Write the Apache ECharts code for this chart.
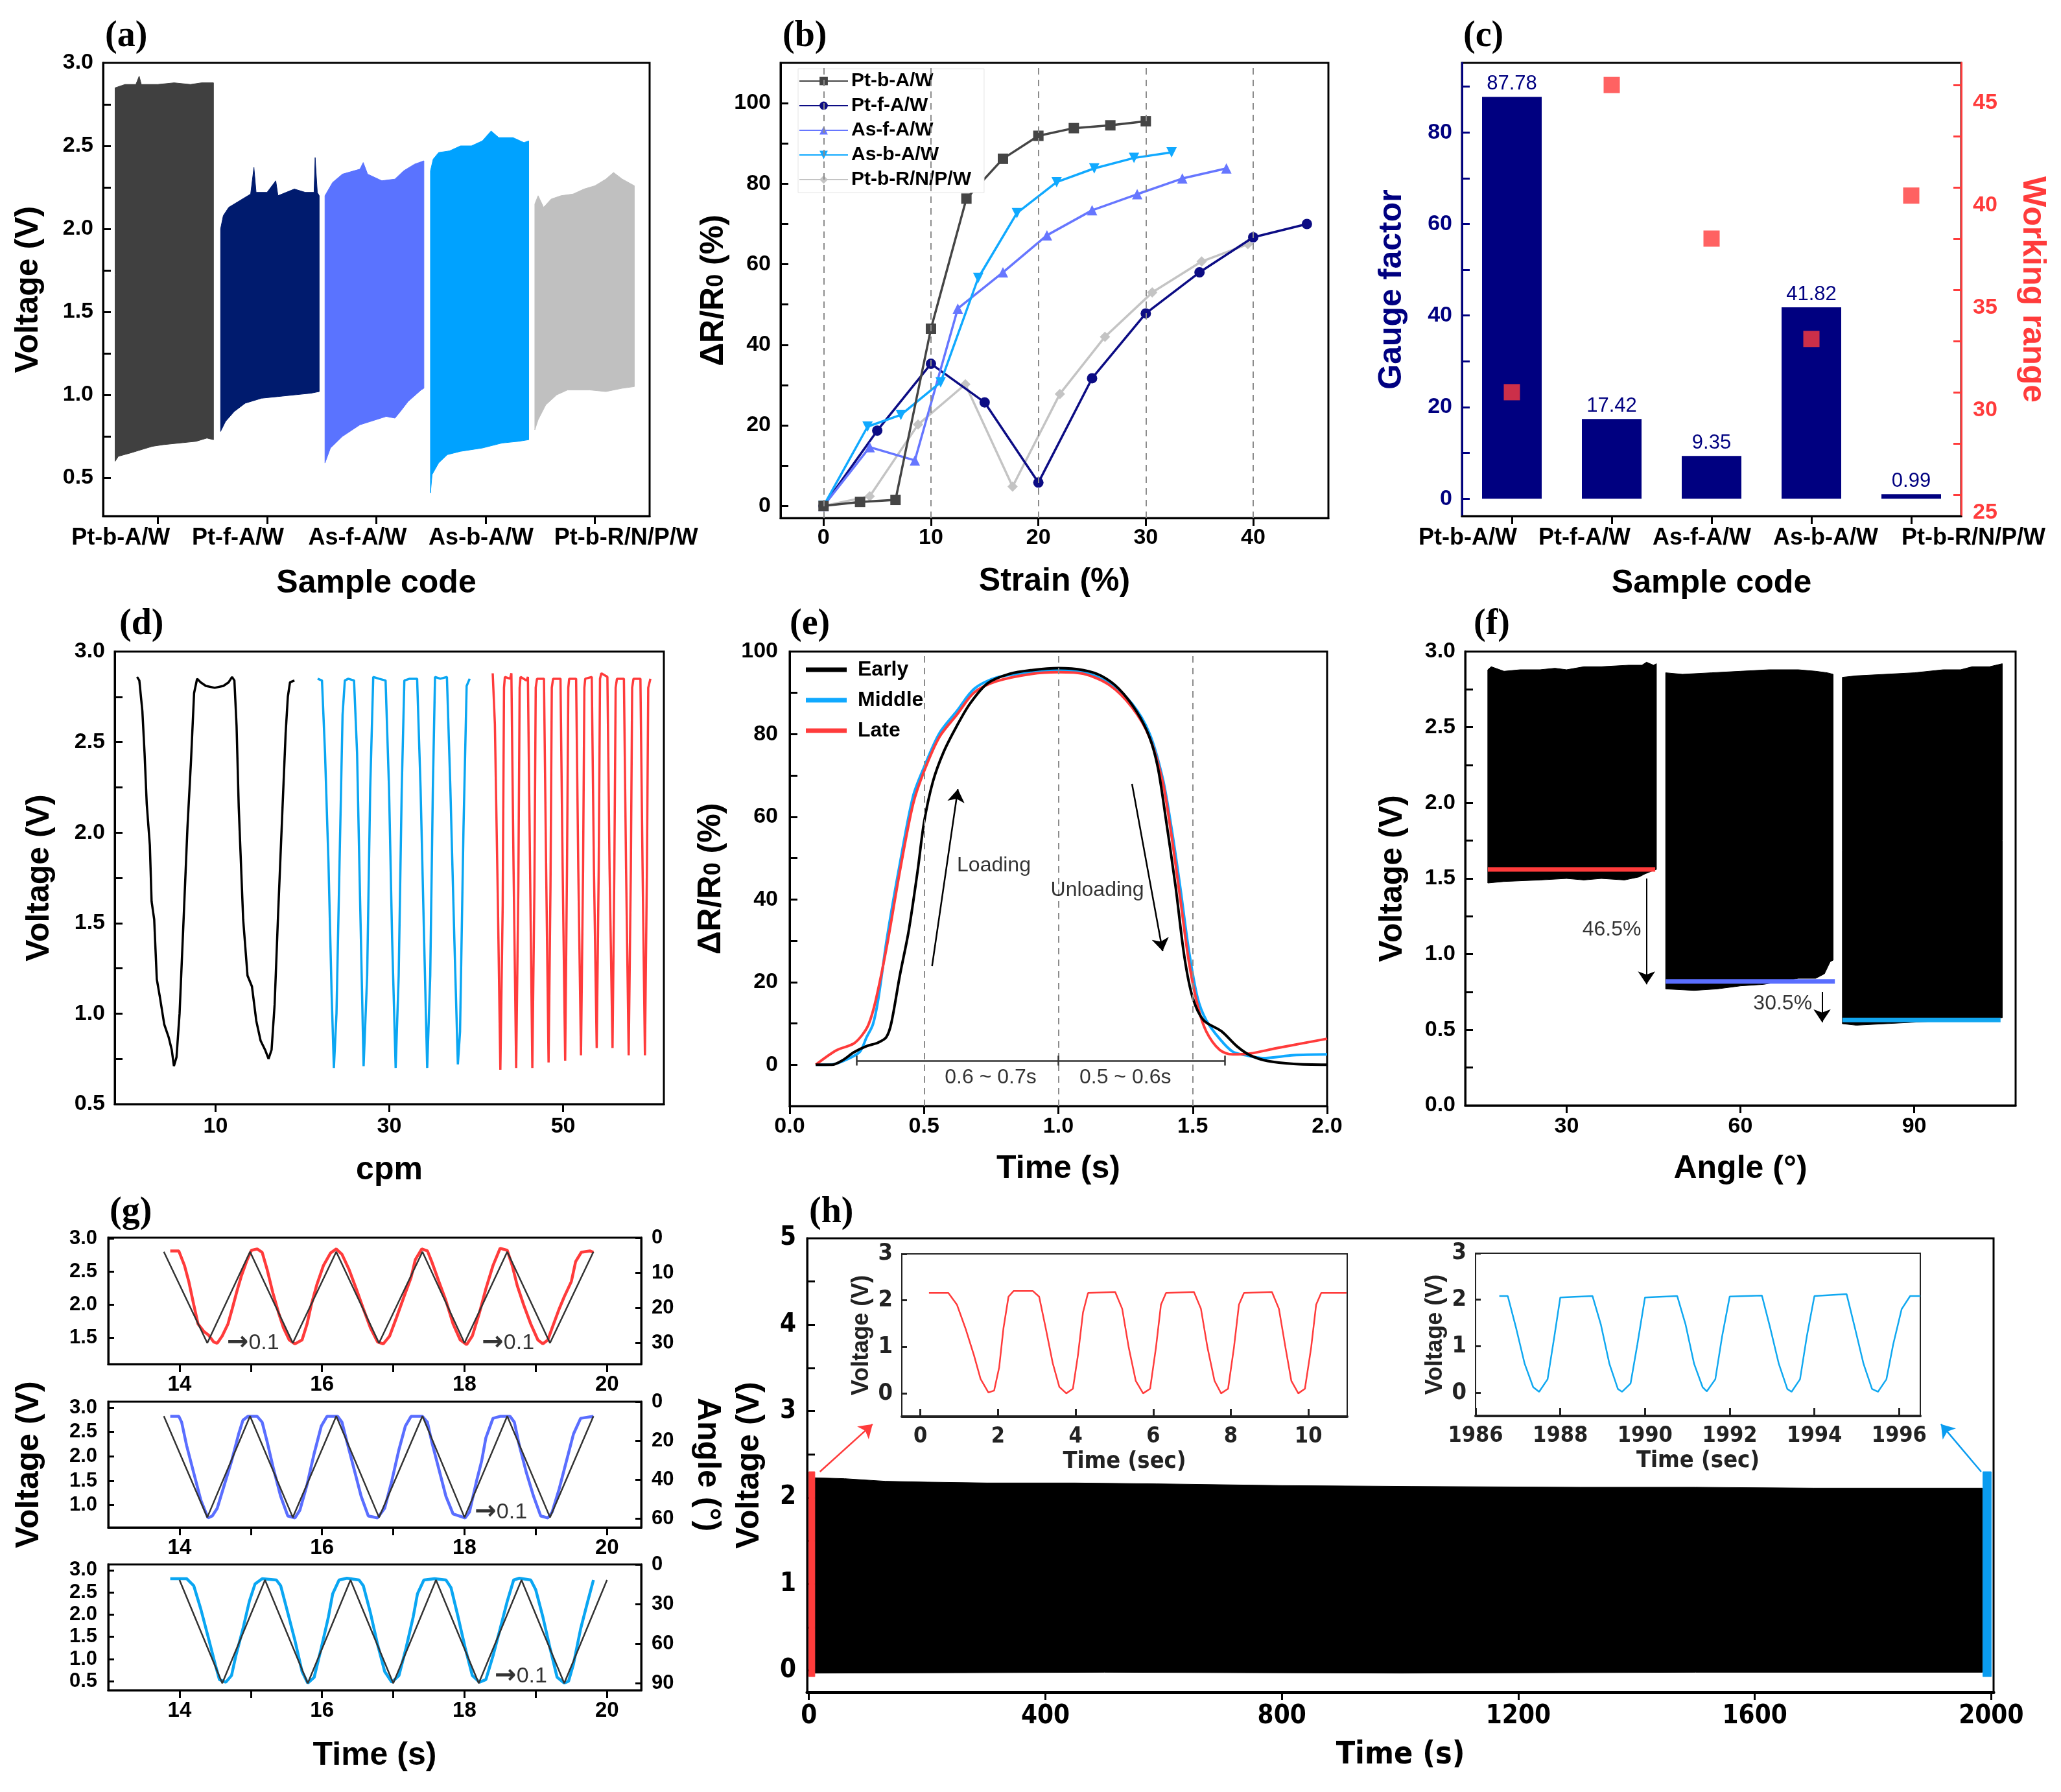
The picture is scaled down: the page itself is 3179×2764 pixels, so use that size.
<!DOCTYPE html>
<html>
<head>
<meta charset="utf-8">
<title>Sensor figure (a)-(h)</title>
<script src="https://cdn.jsdelivr.net/npm/echarts@6.0.0/dist/echarts.min.js"></script>
<style>
  html, body { margin: 0; padding: 0; background: #fff; }
  #chart { width: 3179px; height: 2764px; }
</style>
</head>
<body>
<div id="chart"></div>
<script>
// ---------- values ----------

// (a) voltage envelopes of the dense cycling signal, one block per sample
var sampleCodes = ['Pt-b-A/W', 'Pt-f-A/W', 'As-f-A/W', 'As-b-A/W', 'Pt-b-R/N/P/W'];
var aCatCenters = [0.5, 1.5, 2.5, 3.5, 4.5];
var aVoltLabels = [0.5, 1.0, 1.5, 2.0, 2.5, 3.0];
var aVoltTicks = [0.5, 0.75, 1.0, 1.25, 1.5, 1.75, 2.0, 2.25, 2.5, 2.75];
var aUpper1 = [[0.11,2.85],[0.2,2.87],[0.3,2.87],[0.33,2.92],[0.35,2.87],[0.5,2.87],[0.65,2.88],[0.8,2.87],[0.9,2.88],[1.01,2.88]];
var aLower1 = [[0.11,0.60],[0.14,0.63],[0.25,0.65],[0.35,0.67],[0.45,0.69],[0.55,0.70],[0.7,0.71],[0.85,0.72],[0.95,0.74],[1.01,0.73]];
var aUpper2 = [[1.075,2.0],[1.1,2.08],[1.15,2.13],[1.25,2.17],[1.35,2.21],[1.38,2.37],[1.4,2.22],[1.5,2.22],[1.58,2.29],[1.6,2.2],[1.75,2.24],[1.85,2.22],[1.93,2.22],[1.94,2.43],[1.96,2.22],[1.977,2.2]];
var aLower2 = [[1.075,0.78],[1.12,0.84],[1.2,0.9],[1.3,0.95],[1.45,0.98],[1.6,0.99],[1.75,1.0],[1.9,1.01],[1.977,1.02]];
var aUpper3 = [[2.03,2.2],[2.1,2.28],[2.19,2.33],[2.35,2.36],[2.38,2.4],[2.42,2.33],[2.55,2.29],[2.67,2.3],[2.75,2.35],[2.85,2.39],[2.935,2.41]];
var aLower3 = [[2.03,0.59],[2.08,0.68],[2.19,0.75],[2.35,0.82],[2.59,0.87],[2.67,0.86],[2.72,0.9],[2.79,0.96],[2.91,1.03],[2.935,1.04]];
var aUpper4 = [[2.995,2.35],[3.02,2.42],[3.07,2.46],[3.17,2.47],[3.27,2.5],[3.37,2.5],[3.47,2.53],[3.55,2.59],[3.62,2.55],[3.75,2.55],[3.85,2.52],[3.894,2.53]];
var aLower4 = [[2.995,0.41],[3.01,0.52],[3.07,0.59],[3.15,0.64],[3.27,0.66],[3.47,0.68],[3.65,0.71],[3.8,0.72],[3.894,0.73]];
var aUpper5 = [[3.95,2.15],[3.98,2.2],[4.03,2.13],[4.1,2.18],[4.19,2.2],[4.3,2.21],[4.4,2.24],[4.5,2.26],[4.6,2.3],[4.67,2.34],[4.75,2.3],[4.86,2.26]];
var aLower5 = [[3.95,0.79],[3.98,0.85],[4.05,0.94],[4.15,1.0],[4.25,1.03],[4.45,1.03],[4.6,1.02],[4.75,1.04],[4.86,1.05]];

// (b) relative resistance change vs strain
var bStrainLabels = [0, 10, 20, 30, 40];
var bResLabels = [0, 20, 40, 60, 80, 100];
var bResTicks = [0, 10, 20, 30, 40, 50, 60, 70, 80, 90, 100];
var bPtbAW = [[0,0],[3.4,1],[6.7,1.5],[10,44],[13.3,76.3],[16.7,86.2],[20,91.9],[23.3,93.8],[26.7,94.5],[30,95.5]];
var bPtfAW = [[0,0],[5,18.7],[10,35.3],[15,25.7],[20,5.8],[25,31.7],[30,47.8],[35,58],[40,66.7],[45,70]];
var bAsfAW = [[0,0],[4.3,14.6],[8.5,11.3],[12.5,49],[16.7,58],[20.8,67.2],[25,73.4],[29.2,77.4],[33.4,81.3],[37.5,83.8]];
var bAsbAW = [[0,0],[4.1,19.7],[7.2,22.6],[10.9,30.7],[14.4,56.6],[18,72.7],[21.7,80.4],[25.2,83.8],[28.9,86.4],[32.4,87.8]];
var bPtbRNPW = [[0,0],[4.3,2.4],[8.8,20.2],[13.2,30.2],[17.6,4.8],[22,27.8],[26.2,42],[30.6,53],[35.2,60.7],[39.5,65]];

// (c) gauge factor (bars) and working range (squares)
var cGauge = [87.78, 17.42, 9.35, 41.82, 0.99];
var cRange = [30, 45, 37.5, 32.6, 39.6];
var cGaugeLabels = [0, 20, 40, 60, 80];
var cGaugeTicks = [0, 10, 20, 30, 40, 50, 60, 70, 80, 90];
var cRangeLabels = [25, 30, 35, 40, 45];
var cRangeTicks = [25, 27.5, 30, 32.5, 35, 37.5, 40, 42.5, 45];

// (d) voltage at 10 / 30 / 50 cpm
var dCpmLabels = [10, 30, 50];
var dVoltLabels = [0.5, 1.0, 1.5, 2.0, 2.5, 3.0];
var dVoltTicks = [0.75, 1.0, 1.25, 1.5, 1.75, 2.0, 2.25, 2.5, 2.75];
var d10cpm = [[0.97,2.86],[1.23,2.84],[1.58,2.67],[1.83,2.44],[2.08,2.16],[2.44,1.93],[2.64,1.62],[2.94,1.52],[3.24,1.19],[3.6,1.09],[4.1,0.94],[4.6,0.87],[4.96,0.80],[5.21,0.71],[5.51,0.76],[5.86,1.0],[6.27,1.46],[6.77,2.03],[7.18,2.40],[7.53,2.77],[7.88,2.85],[8.29,2.83],[8.89,2.81],[9.9,2.80],[10.9,2.81],[11.5,2.83],[11.9,2.86],[12.17,2.84],[12.42,2.59],[12.67,2.14],[13.18,1.52],[13.68,1.21],[14.19,1.15],[14.69,0.96],[15.19,0.85],[15.7,0.80],[16.1,0.75],[16.45,0.80],[16.8,1.05],[17.21,1.56],[17.71,2.14],[18.07,2.55],[18.32,2.75],[18.57,2.83],[19.08,2.84]];
var d30cpm = [[21.75,2.85],[22.25,2.84],[22.6,2.44],[23.0,1.83],[23.36,1.11],[23.62,0.70],[23.92,1.0],[24.27,1.83],[24.62,2.65],[24.88,2.84],[25.28,2.85],[25.94,2.84],[26.29,2.44],[26.64,1.62],[27.04,0.71],[27.45,1.21],[27.8,2.24],[28.15,2.86],[28.81,2.85],[29.57,2.84],[29.97,2.24],[30.32,1.42],[30.73,0.70],[31.08,1.21],[31.43,2.24],[31.73,2.84],[32.34,2.85],[33.2,2.85],[33.6,2.24],[34.0,1.42],[34.36,0.70],[34.71,1.21],[35.01,2.24],[35.26,2.86],[35.87,2.85],[36.63,2.86],[37.03,2.24],[37.48,1.42],[37.89,0.72],[38.14,0.90],[38.54,2.03],[38.9,2.81],[39.25,2.85]];
var d50cpm = [[41.9,2.88],[42.15,2.6],[42.5,1.6],[42.78,0.69],[43.05,1.6],[43.2,2.8],[43.3,2.86],[43.9,2.85],[44.05,2.88],[44.3,1.8],[44.6,0.70],[44.85,1.7],[45.0,2.8],[45.1,2.86],[45.8,2.84],[45.95,2.86],[46.2,1.8],[46.46,0.70],[46.7,1.7],[46.85,2.8],[47.0,2.85],[47.8,2.85],[48.05,1.8],[48.33,0.73],[48.55,1.7],[48.7,2.8],[48.85,2.85],[49.7,2.85],[49.95,1.8],[50.24,0.74],[50.45,1.8],[50.6,2.8],[50.7,2.85],[51.5,2.85],[51.75,1.8],[52.06,0.77],[52.3,1.8],[52.45,2.8],[52.55,2.85],[53.3,2.86],[53.55,1.8],[53.87,0.81],[54.1,1.8],[54.25,2.85],[54.4,2.88],[55.1,2.86],[55.35,1.8],[55.69,0.81],[55.9,1.8],[56.05,2.8],[56.2,2.85],[57.0,2.85],[57.25,1.8],[57.55,0.77],[57.8,1.8],[57.95,2.8],[58.1,2.85],[58.9,2.85],[59.15,1.8],[59.42,0.77],[59.65,1.8],[59.8,2.8],[60.05,2.85]];

// (e) one loading/unloading cycle, early / middle / late
var eTimeLabels = [0.0, 0.5, 1.0, 1.5, 2.0];
var eResLabels = [0, 20, 40, 60, 80, 100];
var eResTicks = [0, 10, 20, 30, 40, 50, 60, 70, 80, 90];
var eEarly = [[0.097,0],[0.157,0],[0.2,1.2],[0.238,3.0],[0.286,4.5],[0.327,5.3],[0.359,6.6],[0.378,10],[0.41,21.6],[0.443,32.4],[0.476,46.8],[0.5,58.6],[0.533,68.5],[0.573,75.7],[0.622,82],[0.671,87.4],[0.736,92.3],[0.818,94.6],[0.9,95.5],[1.0,96],[1.094,95.5],[1.16,94.1],[1.225,91],[1.29,85.6],[1.339,79.3],[1.37,72],[1.4,59.5],[1.436,43.2],[1.469,26.1],[1.5,16.2],[1.54,10.8],[1.607,8.1],[1.664,4.5],[1.713,2.3],[1.779,0.9],[1.876,0.2],[2.0,0]];
var eMiddle = [[0.097,0],[0.16,0.1],[0.22,1.5],[0.262,3.2],[0.286,6.6],[0.31,9.8],[0.33,16],[0.362,30.6],[0.41,48.6],[0.459,64.9],[0.5,72],[0.557,80.2],[0.622,85.6],[0.687,91],[0.769,93.7],[0.9,95],[1.0,95.5],[1.094,95],[1.19,92.3],[1.274,87.4],[1.339,80.2],[1.388,69.4],[1.42,57.7],[1.453,43.2],[1.485,27.9],[1.518,16.2],[1.55,10.8],[1.6,6.3],[1.648,3.2],[1.697,2.3],[1.76,1.6],[1.876,2.3],[2.0,2.5]];
var eLate = [[0.097,0],[0.174,3.5],[0.238,5.1],[0.27,7.2],[0.294,9.8],[0.32,15.5],[0.362,28.8],[0.41,46.8],[0.459,63],[0.5,71],[0.557,79.3],[0.622,84.7],[0.687,90.1],[0.769,92.8],[0.9,94.6],[1.0,95],[1.094,94.6],[1.19,91.9],[1.274,86.5],[1.339,79.3],[1.388,68.5],[1.42,55.9],[1.453,40.5],[1.485,25.2],[1.518,14.4],[1.55,8.1],[1.6,3.6],[1.648,2.5],[1.713,2.7],[1.811,4],[1.909,5.2],[2.0,6.3]];

// (f) voltage blocks at 30 / 60 / 90 degrees and their minimum levels
var fAngleLabels = [30, 60, 90];
var fVoltLabels = [0.0, 0.5, 1.0, 1.5, 2.0, 2.5, 3.0];
var fVoltTicks = [0.25, 0.5, 0.75, 1.0, 1.25, 1.5, 1.75, 2.0, 2.25, 2.5, 2.75];
var fUpper1 = [[16.4,2.88],[17,2.9],[19.2,2.87],[22,2.88],[25.4,2.88],[28,2.89],[30,2.88],[33,2.9],[36,2.9],[40.7,2.91],[43,2.91],[43.8,2.93],[45,2.91],[45.5,2.92]];
var fLower1 = [[16.4,1.47],[19.2,1.48],[25.4,1.49],[30,1.5],[33,1.49],[36,1.5],[40,1.49],[42.5,1.51],[43.5,1.53],[44.8,1.55],[45.5,1.56]];
var fUpper2 = [[47.1,2.86],[50,2.85],[55,2.86],[60,2.87],[65,2.88],[70,2.88],[73,2.87],[75,2.86],[76,2.85]];
var fLower2 = [[47.1,0.77],[52,0.76],[56,0.77],[60,0.79],[64,0.80],[67,0.82],[70,0.84],[73,0.84],[74.5,0.87],[75.5,0.95],[76,0.96]];
var fUpper3 = [[77.6,2.83],[80,2.84],[85,2.85],[90,2.86],[95,2.88],[98,2.88],[100,2.9],[103,2.9],[105.2,2.92]];
var fLower3 = [[77.6,0.54],[80,0.53],[85,0.54],[90,0.55],[95,0.56],[100,0.57],[105.2,0.58]];
var fLevel30 = [[16.4,1.56],[45.3,1.56]];
var fLevel60 = [[47.1,0.82],[76.3,0.82]];
var fLevel90 = [[77.6,0.565],[104.9,0.565]];

// (g) voltage (left axis) against bending angle (right axis, black)
var gTimeLabels = [14, 16, 18, 20];
var gTimeTicks = [14, 15, 16, 17, 18, 19, 20];
var gVolt1Labels = [1.5, 2.0, 2.5, 3.0];
var gVolt2Labels = [1.0, 1.5, 2.0, 2.5, 3.0];
var gVolt3Labels = [0.5, 1.0, 1.5, 2.0, 2.5, 3.0];
var gAngle1Labels = [0, 10, 20, 30];
var gAngle2Labels = [0, 20, 40, 60];
var gAngle3Labels = [0, 30, 60, 90];
var gAngle30 = [[13.78,4],[14.39,30],[14.99,4],[15.59,30],[16.2,4],[16.8,30],[17.41,4],[18.0,30],[18.6,4],[19.2,30],[19.81,4]];
var gAngle60 = [[13.78,7.4],[14.39,59.4],[14.99,7.4],[15.59,59.4],[16.2,7.4],[16.8,59.4],[17.41,7.4],[18.0,59.4],[18.6,7.4],[19.2,59.4],[19.81,7.4]];
var gAngle90 = [[14.0,11.8],[14.6,90],[15.2,11.8],[15.8,90],[16.4,11.8],[17.0,90],[17.6,11.8],[18.2,90],[18.8,11.8],[19.4,90],[20.0,11.8]];
var gVolt30 = [[13.87,2.81],[13.99,2.81],[14.07,2.59],[14.13,2.35],[14.2,2.0],[14.26,1.71],[14.34,1.6],[14.41,1.54],[14.48,1.44],[14.53,1.42],[14.6,1.53],[14.68,1.71],[14.74,1.94],[14.81,2.22],[14.87,2.44],[14.94,2.65],[15.01,2.82],[15.09,2.84],[15.16,2.79],[15.23,2.53],[15.31,2.18],[15.39,1.88],[15.46,1.65],[15.54,1.47],[15.62,1.41],[15.72,1.47],[15.79,1.71],[15.85,2.0],[15.93,2.31],[16.02,2.59],[16.12,2.78],[16.2,2.84],[16.28,2.76],[16.38,2.53],[16.48,2.24],[16.58,1.94],[16.68,1.65],[16.78,1.44],[16.86,1.41],[16.95,1.53],[17.05,1.82],[17.15,2.12],[17.25,2.41],[17.31,2.68],[17.4,2.84],[17.48,2.81],[17.54,2.65],[17.64,2.35],[17.74,2.06],[17.84,1.71],[17.94,1.47],[18.03,1.4],[18.11,1.53],[18.21,1.88],[18.3,2.24],[18.4,2.59],[18.5,2.85],[18.6,2.82],[18.67,2.59],[18.74,2.29],[18.83,2.0],[18.93,1.71],[19.03,1.47],[19.1,1.41],[19.17,1.47],[19.23,1.65],[19.33,1.94],[19.4,2.12],[19.5,2.35],[19.56,2.65],[19.64,2.79],[19.76,2.81],[19.81,2.79]];
var gVolt60 = [[13.87,2.82],[13.99,2.82],[14.03,2.7],[14.1,2.22],[14.2,1.66],[14.3,1.1],[14.4,0.74],[14.46,0.78],[14.53,0.94],[14.63,1.42],[14.73,1.9],[14.83,2.46],[14.89,2.74],[14.96,2.82],[15.09,2.82],[15.16,2.7],[15.23,2.3],[15.32,1.74],[15.42,1.18],[15.52,0.78],[15.62,0.74],[15.69,0.9],[15.79,1.42],[15.89,2.06],[15.99,2.62],[16.07,2.82],[16.22,2.82],[16.28,2.7],[16.35,2.3],[16.45,1.74],[16.55,1.18],[16.65,0.78],[16.78,0.74],[16.88,0.94],[16.98,1.5],[17.08,2.14],[17.17,2.62],[17.25,2.82],[17.41,2.82],[17.48,2.7],[17.54,2.3],[17.64,1.74],[17.74,1.18],[17.84,0.82],[18.01,0.74],[18.07,0.86],[18.17,1.5],[18.24,1.9],[18.3,2.38],[18.4,2.78],[18.5,2.82],[18.64,2.82],[18.7,2.7],[18.77,2.22],[18.87,1.66],[18.97,1.18],[19.07,0.78],[19.17,0.74],[19.23,0.86],[19.33,1.34],[19.43,1.9],[19.53,2.46],[19.63,2.78],[19.81,2.82]];
var gVolt90 = [[13.87,2.81],[14.1,2.81],[14.2,2.65],[14.3,2.12],[14.4,1.51],[14.5,0.89],[14.56,0.54],[14.65,0.48],[14.73,0.63],[14.79,1.07],[14.89,1.68],[14.98,2.3],[15.06,2.69],[15.16,2.81],[15.36,2.78],[15.42,2.65],[15.52,2.04],[15.62,1.42],[15.72,0.72],[15.8,0.46],[15.89,0.59],[15.99,1.25],[16.09,1.95],[16.15,2.47],[16.24,2.78],[16.35,2.82],[16.52,2.78],[16.58,2.65],[16.68,2.04],[16.78,1.33],[16.88,0.72],[16.98,0.48],[17.08,0.63],[17.18,1.25],[17.28,1.95],[17.34,2.47],[17.43,2.78],[17.58,2.81],[17.74,2.78],[17.81,2.61],[17.91,1.95],[18.01,1.25],[18.11,0.63],[18.21,0.48],[18.3,0.54],[18.4,1.07],[18.5,1.68],[18.6,2.3],[18.69,2.78],[18.77,2.82],[18.93,2.78],[19.0,2.56],[19.1,1.95],[19.2,1.25],[19.3,0.59],[19.4,0.46],[19.46,0.5],[19.53,0.89],[19.63,1.68],[19.73,2.3],[19.81,2.78]];

// (h) 2000 s durability test and the two zoomed windows
var hTimeLabels = [0, 400, 800, 1200, 1600, 2000];
var hVoltLabels = [0, 1, 2, 3, 4, 5];
var hVoltTicks = [0, 0.5, 1, 1.5, 2, 2.5, 3, 3.5, 4, 4.5];
var hUpper = [[10,2.23],[60,2.22],[129,2.19],[200,2.18],[301,2.17],[450,2.17],[588,2.16],[800,2.14],[1019,2.13],[1306,2.12],[1500,2.12],[1700,2.11],[1985,2.11]];
var hLower = [[10,-0.03],[500,-0.02],[1000,-0.03],[1500,-0.02],[1985,-0.02]];
var hStartUpper = [[0,2.3],[10,2.3]];
var hStartLower = [[0,-0.07],[10,-0.07]];
var hEndUpper = [[1986,2.3],[2000,2.3]];
var hEndLower = [[1986,-0.07],[2000,-0.07]];
var inStartLabels = [0, 2, 4, 6, 8, 10];
var inEndLabels = [1986, 1988, 1990, 1992, 1994, 1996];
var inVoltLabels = [0, 1, 2, 3];
var inStart = [[0.22,2.16],[0.72,2.16],[0.94,1.91],[1.16,1.4],[1.38,0.82],[1.55,0.31],[1.75,0.02],[1.9,0.06],[2.03,0.56],[2.14,1.4],[2.27,2.08],[2.4,2.2],[2.9,2.2],[3.06,2.08],[3.23,1.4],[3.41,0.65],[3.58,0.14],[3.76,0.0],[3.93,0.1],[4.06,0.82],[4.19,1.74],[4.32,2.16],[5.02,2.18],[5.2,1.82],[5.37,0.98],[5.55,0.27],[5.74,0.0],[5.92,0.1],[6.07,0.98],[6.2,1.91],[6.33,2.16],[7.05,2.18],[7.23,1.82],[7.4,0.98],[7.58,0.27],[7.75,0.0],[7.93,0.1],[8.08,0.98],[8.21,1.91],[8.34,2.16],[9.06,2.18],[9.24,1.82],[9.41,0.98],[9.56,0.27],[9.74,0.0],[9.91,0.1],[10.07,0.98],[10.2,1.91],[10.33,2.16],[10.98,2.16]];
var inEnd = [[1986.56,2.08],[1986.76,2.08],[1986.96,1.38],[1987.16,0.62],[1987.36,0.12],[1987.5,0.02],[1987.7,0.29],[1987.86,1.21],[1988.0,2.05],[1988.76,2.08],[1988.96,1.46],[1989.16,0.62],[1989.36,0.08],[1989.46,0.02],[1989.66,0.2],[1989.82,1.04],[1990.0,2.05],[1990.76,2.08],[1990.96,1.46],[1991.16,0.62],[1991.36,0.12],[1991.46,0.03],[1991.66,0.29],[1991.82,1.21],[1992.0,2.07],[1992.76,2.09],[1992.96,1.38],[1993.16,0.62],[1993.36,0.08],[1993.46,0.02],[1993.66,0.29],[1993.82,1.21],[1994.0,2.08],[1994.76,2.12],[1994.96,1.38],[1995.16,0.62],[1995.36,0.08],[1995.5,0.02],[1995.7,0.29],[1995.86,1.04],[1996.06,1.8],[1996.26,2.08],[1996.5,2.08]];

// ---------- layout and styling ----------
var SANS = "'Liberation Sans', Arial, Helvetica, sans-serif";
var NARROW = "'Liberation Sans Narrow', 'DejaVu Sans Condensed', 'Liberation Sans', sans-serif";
var SERIF = "'Liberation Serif', 'DejaVu Serif', serif";
var RED = '#ff3b3b', NAVY = '#000080', SKY = '#0aa6f2', PERI = '#5a6eff';

// grid rectangles: a, b, c, d, e, f, g1, g2, g3, h, h inset 1, h inset 2
var gridBoxes = [
  [159, 97, 843, 699], [1204, 97, 845, 702], [2255, 97, 770, 699],
  [177, 1005, 847, 698], [1218, 1005, 829, 701], [2260, 1005, 849, 700],
  [167, 1909, 822, 195], [167, 2162, 822, 194], [167, 2413, 822, 194],
  [1245, 1910, 1830, 700], [1391, 1934, 687, 251], [2276, 1933, 686, 251]
];

function fixed1(v) { return v.toFixed(1); }
function plain(v) { return String(v); }

function clean(o) {
  if (Array.isArray(o)) { o.forEach(clean); }
  else if (o && typeof o === 'object') {
    Object.keys(o).forEach(function (k) { if (o[k] === undefined) delete o[k]; else clean(o[k]); });
  }
  return o;
}

function valAxis(grid, min, max, labels, ticks, o) {
  o = o || {};
  var col = o.color || '#000';
  return {
    type: 'value', gridIndex: grid, min: min, max: max,
    position: o.position, inverse: o.inverse,
    axisLine: { show: true, onZero: false, lineStyle: { color: col, width: o.lineWidth || 3 } },
    axisTick: { show: true, inside: !!o.inside, length: o.tickLen || 12, customValues: ticks,
      lineStyle: { color: col, width: 3 } },
    axisLabel: { show: true, customValues: labels, margin: o.margin || 15, color: col,
      fontSize: o.fontSize || 34, fontWeight: 'bold', fontFamily: o.font || SANS,
      formatter: o.fmt || plain, rich: o.rich },
    splitLine: { show: false },
    name: o.name, nameLocation: 'middle', nameGap: o.nameGap, nameRotate: o.nameRotate,
    nameMoveOverlap: false,
    nameTextStyle: { color: o.nameColor || col, fontSize: o.nameSize || 50, fontWeight: 'bold',
      fontFamily: o.nameFont || SANS, rich: o.nameRich }
  };
}

function catRich(pads, size) {
  var r = {};
  pads.forEach(function (p, i) {
    r['c' + i] = { fontSize: size, fontWeight: 'bold', fontFamily: SANS, color: '#000', padding: p };
  });
  return r;
}

function bandSeries(xi, yi, uppers, lowers, colors) {
  return {
    type: 'custom', xAxisIndex: xi, yAxisIndex: yi, silent: true, clip: true, z: 2,
    data: uppers.map(function (u) { return u[0]; }),
    renderItem: function (params, api) {
      var k = params.dataIndex;
      var pts = uppers[k].map(function (p) { return api.coord(p); });
      lowers[k].slice().reverse().forEach(function (p) { pts.push(api.coord(p)); });
      return { type: 'polygon', shape: { points: pts },
        style: { fill: colors[k], stroke: colors[k], lineWidth: 1 } };
    }
  };
}

function lineSeries(name, xi, yi, data, color, width, extra) {
  var s = { type: 'line', name: name, xAxisIndex: xi, yAxisIndex: yi, data: data,
    symbol: 'none', showSymbol: false, silent: true, z: 3,
    lineStyle: { color: color, width: width }, itemStyle: { color: color } };
  Object.keys(extra || {}).forEach(function (k) { s[k] = extra[k]; });
  return s;
}

function arrowSeries(xi, yi, segs, color, width) {
  return { type: 'lines', coordinateSystem: 'cartesian2d', xAxisIndex: xi, yAxisIndex: yi,
    silent: true, z: 5, symbol: ['none', 'arrow'], symbolSize: 20,
    lineStyle: { color: color, width: width, opacity: 1 },
    data: segs.map(function (s) { return { coords: [[s[0], s[1]], [s[2], s[3]]] }; }) };
}

function textSeries(xi, yi, notes, size, pos) {
  return { type: 'scatter', xAxisIndex: xi, yAxisIndex: yi, silent: true, z: 6,
    symbolSize: 1, itemStyle: { color: 'rgba(0,0,0,0)' },
    label: { show: true, position: pos || 'inside', distance: 0, color: '#000',
      fontSize: size, fontFamily: SANS, formatter: function (p) { return notes[p.dataIndex][2]; },
      rich: { arr: { fontSize: size + 6, fontWeight: 'bold', fontFamily: "'DejaVu Sans', sans-serif", color: '#000' } } },
    data: notes.map(function (n) { return [n[0], n[1]]; }) };
}

function dashedAt(values) {
  return { silent: true, symbol: ['none', 'none'], label: { show: false },
    lineStyle: { color: '#8c8c8c', type: [10, 8], width: 2 },
    data: values.map(function (v) { return { xAxis: v }; }) };
}

var resName = '{n|ΔR/R}{s|0}{n| (%)}';
var resRich = {
  n: { fontSize: 50, fontWeight: 'bold', fontFamily: SANS, color: '#000' },
  s: { fontSize: 36, fontWeight: 'bold', fontFamily: SANS, color: '#000', verticalAlign: 'bottom', padding: [0, 0, 3, 0] }
};

// tick-label offsets (the labels in the figure do not sit exactly under their ticks)
var aCatRich = catRich([[0,114,0,0],[0,90,0,0],[0,58,0,0],[0,14,0,0],[0,0,0,96]], 36);
var cCatRich = catRich([[0,136,0,0],[0,84,0,0],[0,30,0,0],[0,0,0,44],[0,0,0,192]], 36);
var cRangeRich = { r: { fontSize: 34, fontWeight: 'bold', fontFamily: SANS, color: RED, padding: [56, 0, 0, 0] } };

var xAxes = [
  valAxis(0, 0, 5, aCatCenters, aCatCenters, { margin: 16, rich: aCatRich, name: 'Sample code', nameGap: 79,
    fmt: function (v) { var i = Math.round(v - 0.5); return '{c' + i + '|' + sampleCodes[i] + '}'; } }),
  valAxis(1, -4, 47, bStrainLabels, bStrainLabels, { margin: 14, name: 'Strain (%)', nameGap: 73 }),
  { type: 'category', gridIndex: 2, data: sampleCodes, boundaryGap: true,
    axisLine: { show: true, onZero: false, lineStyle: { color: '#000', width: 3 } },
    axisTick: { show: true, alignWithLabel: true, inside: false, length: 12, lineStyle: { color: '#000', width: 3 } },
    axisLabel: { interval: 0, margin: 16, rich: cCatRich,
      formatter: function (v, i) { return '{c' + i + '|' + v + '}'; } },
    splitLine: { show: false },
    name: 'Sample code', nameLocation: 'middle', nameGap: 79, nameMoveOverlap: false,
    nameTextStyle: { color: '#000', fontSize: 50, fontWeight: 'bold', fontFamily: SANS } },
  valAxis(3, -1.6, 61.6, dCpmLabels, dCpmLabels, { margin: 18, name: 'cpm', nameGap: 77 }),
  valAxis(4, 0, 2, eTimeLabels, eTimeLabels, { fmt: fixed1, name: 'Time (s)', nameGap: 72 }),
  valAxis(5, 12.5, 107.5, fAngleLabels, fAngleLabels, { margin: 16, name: 'Angle (°)', nameGap: 73 }),
  valAxis(6, 13.0, 20.48, gTimeLabels, gTimeTicks, { fontSize: 33, margin: 15 }),
  valAxis(7, 13.0, 20.48, gTimeLabels, gTimeTicks, { fontSize: 33, margin: 15 }),
  valAxis(8, 13.0, 20.48, gTimeLabels, gTimeTicks, { fontSize: 33, margin: 15, name: 'Time (s)', nameGap: 76 }),
  valAxis(9, -3, 2004, hTimeLabels, hTimeLabels, { font: NARROW, fontSize: 40, margin: 18, lineWidth: 5,
    name: 'Time (s)', nameFont: NARROW, nameSize: 48, nameGap: 74 }),
  valAxis(10, -0.48, 11, inStartLabels, inStartLabels, { inside: true, font: NARROW, fontSize: 34, margin: 14,
    lineWidth: 4, color: '#222', name: 'Time (sec)', nameFont: NARROW, nameSize: 36, nameGap: 52 }),
  valAxis(11, 1986, 1996.5, inEndLabels, inEndLabels, { inside: true, font: NARROW, fontSize: 34, margin: 14,
    lineWidth: 4, color: '#222', name: 'Time (sec)', nameFont: NARROW, nameSize: 36, nameGap: 52 })
];

var yAxes = [
  valAxis(0, 0.27, 3.0, aVoltLabels, aVoltTicks, { inside: true, fmt: fixed1, name: 'Voltage (V)', nameGap: 90 }),
  valAxis(1, -3, 110, bResLabels, bResTicks, { inside: true, name: resName, nameRich: resRich, nameGap: 78 }),
  valAxis(2, -3.8, 95.2, cGaugeLabels, cGaugeTicks, { inside: true, color: NAVY, name: 'Gauge factor', nameGap: 83 }),
  valAxis(2, 23.95, 46.08, cRangeLabels, cRangeTicks, { position: 'right', inside: true, color: RED,
    rich: cRangeRich, fmt: function (v) { return '{r|' + v + '}'; },
    margin: 18, name: 'Working range', nameGap: 85, nameRotate: -90 }),
  valAxis(3, 0.5, 3.0, dVoltLabels, dVoltTicks, { inside: true, fmt: fixed1, name: 'Voltage (V)', nameGap: 91 }),
  valAxis(4, -10, 100, eResLabels, eResTicks, { inside: true, margin: 18, name: resName, nameRich: resRich, nameGap: 96 }),
  valAxis(5, 0, 3, fVoltLabels, fVoltTicks, { inside: true, fmt: fixed1, name: 'Voltage (V)', nameGap: 87 }),
  valAxis(6, 1.106, 3.01, gVolt1Labels, gVolt1Labels, { inside: true, fmt: fixed1, fontSize: 31, margin: 17, tickLen: 9 }),
  valAxis(6, 0, 36, gAngle1Labels, gAngle1Labels, { position: 'right', inverse: true, inside: true, fontSize: 31, margin: 16, tickLen: 9 }),
  valAxis(7, 0.544, 3.12, gVolt2Labels, gVolt2Labels, { inside: true, fmt: fixed1, fontSize: 31, margin: 17, tickLen: 9,
    name: 'Voltage (V)', nameGap: 97 }),
  valAxis(7, 0, 64.6, gAngle2Labels, gAngle2Labels, { position: 'right', inverse: true, inside: true, fontSize: 31, margin: 16, tickLen: 9,
    name: 'Angle (°)', nameGap: 77, nameRotate: -90 }),
  valAxis(8, 0.3, 3.13, gVolt3Labels, gVolt3Labels, { inside: true, fmt: fixed1, fontSize: 31, margin: 17, tickLen: 9 }),
  valAxis(8, 0, 95.3, gAngle3Labels, gAngle3Labels, { position: 'right', inverse: true, inside: true, fontSize: 31, margin: 16, tickLen: 9 }),
  valAxis(9, -0.25, 5, hVoltLabels, hVoltTicks, { inside: true, font: NARROW, fontSize: 40, margin: 17,
    name: 'Voltage (V)', nameGap: 64 }),
  valAxis(10, -0.5, 3, inVoltLabels, inVoltLabels, { inside: true, font: NARROW, fontSize: 36, margin: 14, tickLen: 8,
    lineWidth: 2, color: '#222', name: 'Voltage (V)', nameSize: 36, nameGap: 44 }),
  valAxis(11, -0.5, 3, inVoltLabels, inVoltLabels, { inside: true, font: NARROW, fontSize: 36, margin: 14, tickLen: 8,
    lineWidth: 2, color: '#222', name: 'Voltage (V)', nameSize: 36, nameGap: 44 })
];

var grids = gridBoxes.map(function (b, i) {
  var inset = i >= 10;
  return { left: b[0], top: b[1], width: b[2], height: b[3], containLabel: false, outerBoundsMode: 'none',
    show: true, backgroundColor: inset ? '#fff' : 'transparent',
    borderColor: inset ? '#222' : '#000', borderWidth: inset ? 2 : 3 };
});

var bMarks = { 'Pt-b-A/W': ['rect', 0], 'Pt-f-A/W': ['circle', 0], 'As-f-A/W': ['triangle', 0],
  'As-b-A/W': ['triangle', 180], 'Pt-b-R/N/P/W': ['diamond', 0] };
function bSeries(name, data, color) {
  return lineSeries(name, 1, 1, data, color, 3.5, { symbol: bMarks[name][0], symbolRotate: bMarks[name][1],
    symbolSize: 16, showSymbol: true });
}

var series = [
  // (a)
  bandSeries(0, 0, [aUpper1, aUpper2, aUpper3, aUpper4, aUpper5], [aLower1, aLower2, aLower3, aLower4, aLower5],
    ['#404040', '#001b6e', '#5a73ff', '#00a2ff', '#c0c0c0']),
  // (b)
  (function () {
    var s = bSeries('Pt-b-R/N/P/W', bPtbRNPW, '#c4c4c4');
    s.markLine = dashedAt(bStrainLabels);
    s.z = 2;
    return s;
  })(),
  bSeries('Pt-f-A/W', bPtfAW, '#0c0c84'),
  bSeries('As-f-A/W', bAsfAW, '#6676ff'),
  bSeries('As-b-A/W', bAsbAW, '#10a9ff'),
  bSeries('Pt-b-A/W', bPtbAW, '#454545'),
  // (c)
  { type: 'bar', xAxisIndex: 2, yAxisIndex: 2, data: cGauge, barWidth: 92, silent: true,
    itemStyle: { color: NAVY },
    label: { show: true, position: 'top', distance: 4, color: NAVY, fontSize: 31, fontFamily: SANS } },
  { type: 'scatter', xAxisIndex: 2, yAxisIndex: 3, data: cRange, symbol: 'rect', symbolSize: 25, silent: true,
    itemStyle: { color: RED }, z: 4 },
  // (d)
  lineSeries('d10', 3, 4, d10cpm, '#000', 3.5),
  lineSeries('d30', 3, 4, d30cpm, SKY, 3.5),
  lineSeries('d50', 3, 4, d50cpm, RED, 3.5),
  // (e)
  (function () {
    var s = lineSeries('Middle', 4, 5, eMiddle, '#10a9ff', 4, { smooth: 0.3 });
    s.markLine = dashedAt([0.5, 1.0, 1.5]);
    return s;
  })(),
  lineSeries('Late', 4, 5, eLate, RED, 4, { smooth: 0.3 }),
  lineSeries('Early', 4, 5, eEarly, '#000', 4, { smooth: 0.3 }),
  { type: 'lines', coordinateSystem: 'cartesian2d', xAxisIndex: 4, yAxisIndex: 5, silent: true, z: 5,
    lineStyle: { color: '#333', width: 2.5, opacity: 1 },
    data: [{ coords: [[0.25, 1], [1.62, 1]] }, { coords: [[0.25, -0.2], [0.25, 2.2]] },
      { coords: [[1.0, -0.2], [1.0, 2.2]] }, { coords: [[1.62, -0.2], [1.62, 2.2]] }] },
  arrowSeries(4, 5, [[0.53, 23.9, 0.626, 66.7], [1.274, 68, 1.388, 27.5]], '#000', 2.5),
  textSeries(4, 5, [[0.748, -3.1, '0.6 ~ 0.7s'], [1.249, -3.1, '0.5 ~ 0.6s'], [0.76, 48.2, 'Loading'], [1.145, 42.3, 'Unloading']], 32),
  // (f)
  bandSeries(5, 6, [fUpper1, fUpper2, fUpper3], [fLower1, fLower2, fLower3], ['#000', '#000', '#000']),
  lineSeries('f30', 5, 6, fLevel30, RED, 7),
  lineSeries('f60', 5, 6, fLevel60, PERI, 7),
  lineSeries('f90', 5, 6, fLevel90, '#12a6f0', 7),
  arrowSeries(5, 6, [[43.8, 1.5, 43.8, 0.8], [74.1, 0.75, 74.1, 0.55]], '#000', 2),
  textSeries(5, 6, [[37.8, 1.16, '46.5%'], [67.3, 0.67, '30.5%']], 32),
  // (g)
  lineSeries('g30v', 6, 7, gVolt30, RED, 4.5),
  lineSeries('g30a', 6, 8, gAngle30, '#333', 2.5),
  textSeries(6, 7, [[14.66, 1.42, '{arr|→}0.1'], [18.24, 1.42, '{arr|→}0.1']], 34, 'right'),
  lineSeries('g60v', 7, 9, gVolt60, PERI, 4.5),
  lineSeries('g60a', 7, 10, gAngle60, '#333', 2.5),
  textSeries(7, 9, [[18.14, 0.86, '{arr|→}0.1']], 34, 'right'),
  lineSeries('g90v', 8, 11, gVolt90, SKY, 4.5),
  lineSeries('g90a', 8, 12, gAngle90, '#333', 2.5),
  textSeries(8, 11, [[18.42, 0.61, '{arr|→}0.1']], 34, 'right'),
  // (h)
  bandSeries(9, 13, [hUpper, hStartUpper, hEndUpper], [hLower, hStartLower, hEndLower], ['#000', RED, '#0a9cf0']),
  arrowSeries(9, 13, [[18.6, 2.3, 107.6, 2.85]], RED, 2.5),
  arrowSeries(9, 13, [[1983, 2.3, 1915, 2.85]], '#0a9cf0', 2.5),
  lineSeries('hin1', 10, 14, inStart, RED, 2.5, { z: 6 }),
  lineSeries('hin2', 11, 15, inEnd, '#10a8f0', 2.5, { z: 6 })
];

var panelTags = [['(a)', 162, 29], ['(b)', 1207, 29], ['(c)', 2257, 29], ['(d)', 184, 936],
  ['(e)', 1218, 936], ['(f)', 2273, 936], ['(g)', 169, 1843], ['(h)', 1248, 1843]];

var option = {
  animation: false,
  backgroundColor: '#fff',
  textStyle: { fontFamily: SANS },
  title: panelTags.map(function (t) {
    return { text: t[0], left: t[1], top: t[2], padding: 0,
      textStyle: { fontFamily: SERIF, fontSize: 56, fontWeight: 'bold', color: '#000' } };
  }),
  legend: [
    { data: sampleCodes, orient: 'vertical', left: 1231, top: 106, padding: [4, 20, 5, 1], itemGap: 8,
      itemWidth: 75, itemHeight: 16, selectedMode: false, backgroundColor: '#fff',
      borderColor: '#e4e4e4', borderWidth: 1,
      textStyle: { fontSize: 30, fontWeight: 'bold', fontFamily: SANS, color: '#000' } },
    { data: ['Early', 'Middle', 'Late'], orient: 'vertical', left: 1243, top: 1017, padding: 0, itemGap: 15,
      itemWidth: 63, itemHeight: 7, icon: 'rect', selectedMode: false,
      textStyle: { fontSize: 32, fontWeight: 'bold', fontFamily: SANS, color: '#000', padding: [0, 0, 0, 12] } }
  ],
  grid: grids,
  xAxis: xAxes,
  yAxis: yAxes,
  series: series
};

var chart = echarts.init(document.getElementById('chart'), null, { renderer: 'canvas' });
chart.setOption(clean(option));
</script>
</body>
</html>
